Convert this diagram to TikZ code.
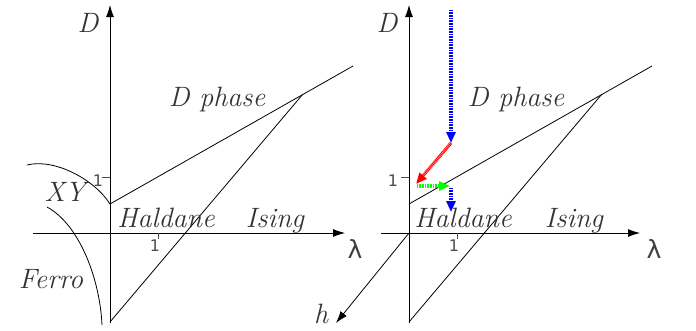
\documentclass[tikz,border=0pt]{standalone}
\usepackage{fontspec}
\newfontfamily\dejavu{DejaVu Sans}
\usetikzlibrary{arrows.meta}

\begin{document}
\begin{tikzpicture}[x=1pt, y=-1pt,
  axis/.style={-{Latex[length=12pt,width=8pt]}, line width=0.8pt},
  bnd/.style={line width=0.8pt},
  tickmk/.style={line width=0.6pt, black!70},
  lab/.style={font=\fontsize{28}{32}\selectfont\itshape, text=black!80,
              anchor=base, inner sep=0pt},
  tck/.style={font=\dejavu\fontsize{16}{18}\selectfont, text=black!70,
              inner sep=0pt},
  lam/.style={font=\dejavu\fontsize{25}{30}\selectfont, text=black!75,
              anchor=base, inner sep=0pt},
  flow/.style={-{Triangle[length=11pt,width=9pt]}, line width=3.2pt,
               dash pattern=on 1pt off 0.6pt},
]
\useasboundingbox (0,0) rectangle (696,330);

% ---- Left panel: axes ------------------------------------------------------
\coordinate (lYb) at (110,323);
\coordinate (lYt) at (110,5);
\coordinate (lXl) at (33,233);
\coordinate (lXr) at (345,233);
\draw[axis] (lYb) -- (lYt);
\draw[axis] (lXl) -- (lXr);
\node[lab] (lD) at (88,32) {D};
\node[lam] (lLam) at (355,258) {λ};

\coordinate (lTy0) at (102,177);
\coordinate (lTy1) at (110,177);
\draw[tickmk] (lTy0) -- (lTy1);
\node[tck] (lTyl) at (98,181) {1};
\coordinate (lTx0) at (158,233);
\coordinate (lTx1) at (158,239);
\draw[tickmk] (lTx0) -- (lTx1);
\node[tck] (lTxl) at (155,246) {1};

% ---- Left panel: phase boundaries -----------------------------------------
\coordinate (lA) at (110,204);
\coordinate (lB) at (303,94);
\coordinate (lC) at (353,66);
\coordinate (lE) at (110,322);
\draw[bnd] (lA) -- (lC);
\draw[bnd] (lE) -- (lB);
\coordinate (lXY) at (27,165);
\draw[bnd] (lXY) .. controls (55,158) and (95,180) .. (lA);
\coordinate (lF0) at (47,207);
\coordinate (lF1) at (102,325);
\draw[bnd] (lF0) .. controls (80,225) and (100,280) .. (lF1);

\node[lab] (lDph) at (217,106) {D phase};
\node[lab] (lHal) at (166,227) {Haldane};
\node[lab] (lIs) at (275,227) {Ising};
\node[lab] (lXYl) at (65,201) {XY};
\node[lab] (lFe) at (51,288) {Ferro};

% ---- Right panel: axes -----------------------------------------------------
\coordinate (rO) at (409,233);
\coordinate (rYb) at (409,323);
\coordinate (rYt) at (409,5);
\coordinate (rXl) at (381,233);
\coordinate (rXr) at (640,233);
\draw[axis] (rYb) -- (rYt);
\draw[axis] (rXl) -- (rXr);
\coordinate (hEnd) at (336,323);
\draw[axis] (rO) -- (hEnd);
\node[lab] (rD) at (387,32) {D};
\node[lam] (rLam) at (654,258) {λ};
\node[lab] (hLab) at (321,323) {h};

\coordinate (rTy0) at (401,177);
\coordinate (rTy1) at (409,177);
\draw[tickmk] (rTy0) -- (rTy1);
\node[tck] (rTyl) at (393,181) {1};
\coordinate (rTx0) at (457,233);
\coordinate (rTx1) at (457,239);
\draw[tickmk] (rTx0) -- (rTx1);
\node[tck] (rTxl) at (454,246) {1};

% ---- Right panel: phase boundaries ----------------------------------------
\coordinate (rA) at (409,204);
\coordinate (rB) at (602,94);
\coordinate (rC) at (652,66);
\coordinate (rE) at (409,322);
\draw[bnd] (rA) -- (rC);
\draw[bnd] (rE) -- (rB);

\node[lab] (rDph) at (516,106) {D phase};
\node[lab] (rHal) at (463,227) {Haldane};
\node[lab] (rIs) at (574,227) {Ising};

% ---- Flow arrows -----------------------------------------------------------
\coordinate (f0) at (451,10);
\coordinate (f1) at (451,143);
\coordinate (f2) at (416,184);
\coordinate (f3) at (417,186);
\coordinate (f4) at (450,186);
\coordinate (f5) at (451,188);
\coordinate (f6) at (451,212);
\draw[flow, blue] (f0) -- (f1);
\draw[flow, red] (f1) -- (f2);
\draw[flow, green] (f3) -- (f4);
\draw[flow, blue] (f5) -- (f6);

\end{tikzpicture}
\end{document}
